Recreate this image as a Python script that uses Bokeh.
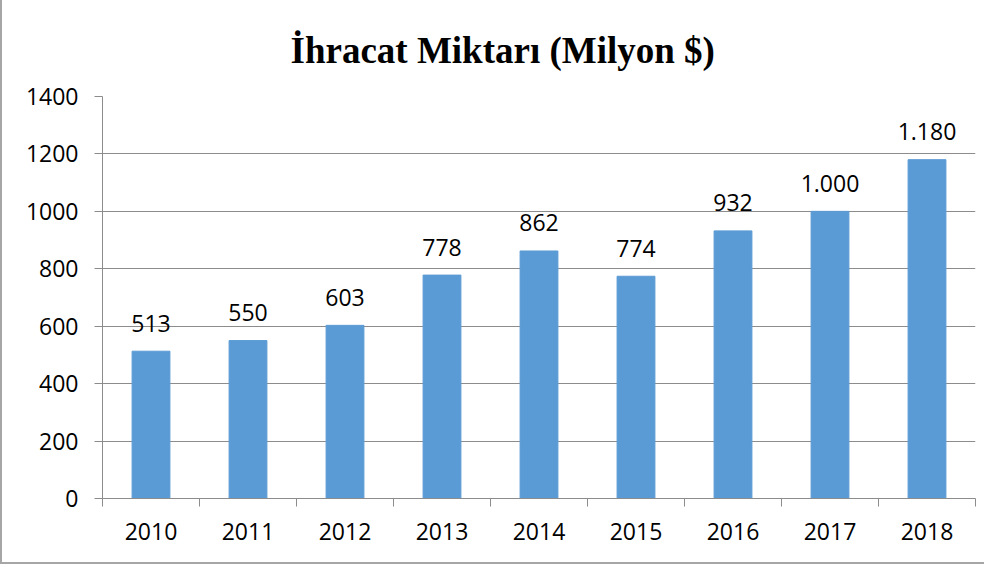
from bokeh.plotting import figure
from bokeh.models import ColumnDataSource, Range1d, FixedTicker, LinearAxis, Title
from bokeh.embed import file_html
from bokeh.resources import INLINE

title_text = "İhracat Miktarı (Milyon $)"
years = ["2010", "2011", "2012", "2013", "2014", "2015", "2016", "2017", "2018"]
values = [513, 550, 603, 778, 862, 774, 932, 1000, 1180]
y_ticks = [0, 200, 400, 600, 800, 1000, 1200, 1400]

def tr_fmt(v):
    return f"{v:,}".replace(",", ".")

xs = list(range(len(years)))
src = ColumnDataSource(dict(x=xs, top=values, label=[tr_fmt(v) for v in values]))

FONT = "Open Sans"
GRAY = "#8c8c8c"
FS = "23px"

p = figure(width=984, height=564, output_backend="svg", toolbar_location=None,
           x_range=Range1d(-0.5, len(years) - 0.5), y_range=Range1d(0, 1400),
           min_border_left=100, min_border_right=11, min_border_top=96, min_border_bottom=66,
           x_axis_location=None)
p.styles = {"border-left": "2px solid #a6a6a6", "border-bottom": "2px solid #a6a6a6"}
p.outline_line_color = None
p.background_fill_color = "white"
p.border_fill_color = "white"

p.title = Title(text=title_text, align="left", vertical_align="top",
                text_font="Liberation Serif", text_font_style="bold",
                text_font_size="37px", text_color="black", offset=188, standoff=48)

p.vbar(x="x", top="top", width=0.39, source=src, color="#5B9BD5")
p.text(x="x", y="top", text="label", source=src, text_align="center",
       text_baseline="alphabetic", y_offset=-28, text_font_size=FS,
       text_font=dict(value=FONT), text_color="black")

# y axis
ya = p.yaxis[0]
ya.ticker = FixedTicker(ticks=y_ticks)
ya.axis_line_color = GRAY
ya.major_tick_line_color = GRAY
ya.major_tick_in = 0
ya.major_tick_out = 8
ya.minor_tick_line_color = None
ya.major_label_text_font = FONT
ya.major_label_text_font_size = FS
ya.major_label_text_color = "black"
ya.major_label_standoff = 16

p.ygrid[0].ticker = FixedTicker(ticks=y_ticks)
p.ygrid[0].grid_line_color = GRAY
p.xgrid.grid_line_color = None

# x axis: labels at category centers, tick marks (minor) at category boundaries
xa = LinearAxis(ticker=FixedTicker(ticks=xs, minor_ticks=[i - 0.5 for i in range(len(years) + 1)]),
                major_label_overrides={i: y for i, y in zip(xs, years)},
                axis_line_color=GRAY, major_tick_line_color=None,
                minor_tick_line_color=GRAY, minor_tick_in=0, minor_tick_out=8,
                major_tick_in=0, major_tick_out=8,
                major_label_text_font=FONT, major_label_text_font_size=FS,
                major_label_text_color="black", major_label_standoff=16)
p.add_layout(xa, "below")

open("out.html", "w").write(file_html(p, INLINE))
